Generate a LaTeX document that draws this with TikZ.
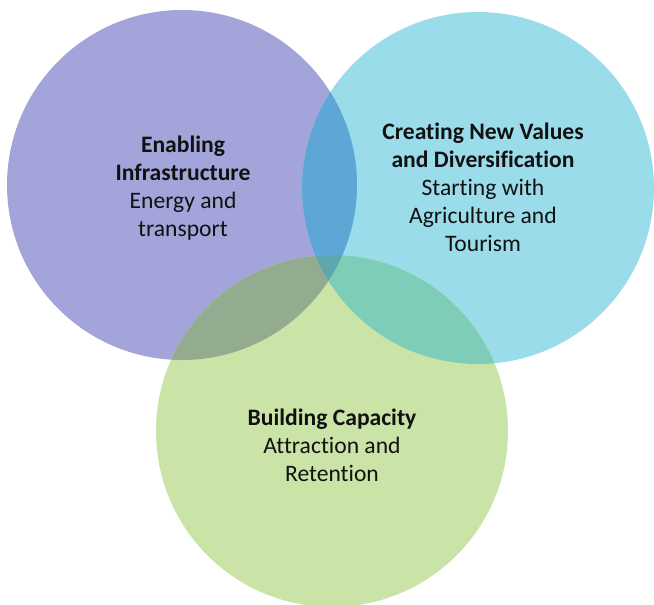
\documentclass[tikz,border=0pt]{standalone}
\usepackage{fontspec}
\setmainfont{Carlito}[Ligatures={NoCommon}]
\definecolor{cL}{HTML}{A3A5DA}
\definecolor{cR}{HTML}{9ADCEA}
\definecolor{cB}{HTML}{C9E4A6}
\definecolor{cLR}{HTML}{5EA6D6}
\definecolor{cLB}{HTML}{93AC8F}
\definecolor{cRB}{HTML}{7DCDB8}
\definecolor{cLRB}{HTML}{5CA8AC}
\definecolor{txt}{HTML}{111111}
\tikzset{
  lbl/.style={align=center, text=txt, inner sep=0pt, font=\fontsize{23.6}{27.8}\selectfont, anchor=base},
}
\begin{document}
\begin{tikzpicture}[x=1pt,y=-1pt]
\useasboundingbox (0,0) rectangle (654,605);
\def\pL{(182,185) circle[radius=175]}
\def\pR{(478,188) circle[radius=176]}
\def\pB{(332,431) circle[radius=176]}
\fill[cL] \pL;
\fill[cR] \pR;
\fill[cB] \pB;
\begin{scope}\clip \pL; \fill[cLR] \pR; \end{scope}
\begin{scope}\clip \pL; \fill[cLB] \pB; \end{scope}
\begin{scope}\clip \pR; \fill[cRB] \pB; \end{scope}
\begin{scope}\clip \pL; \clip \pR; \fill[cLRB] \pB; \end{scope}
\node[lbl] (left) at (183,236) {\textbf{Enabling}\\\textbf{Infrastructure}\\Energy and\\transport};
\node[lbl] (right) at (483,251) {\textbf{Creating New Values}\\\textbf{and Diversification}\\Starting with\\Agriculture and\\Tourism};
\node[lbl] (bottom) at (332,481) {\textbf{Building Capacity}\\Attraction and\\Retention};
\end{tikzpicture}
\end{document}
